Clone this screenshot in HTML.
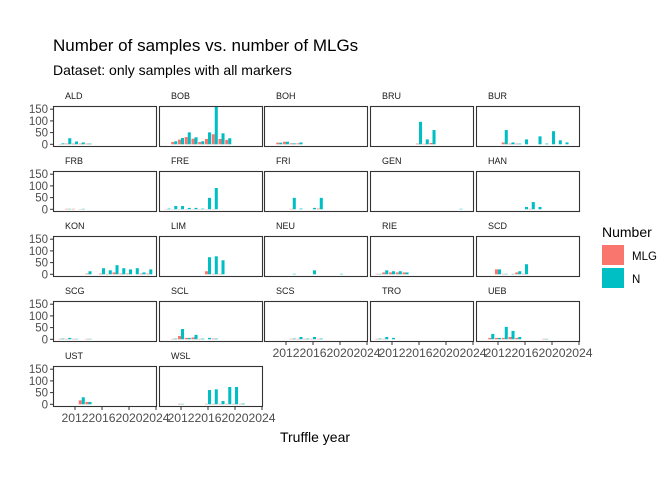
<!DOCTYPE html>
<html><head><meta charset="utf-8"><style>
html,body{margin:0;padding:0;background:#fff;}
svg{display:block;font-family:"Liberation Sans",Arial,sans-serif;}
</style></head><body>
<svg id="chart" width="672" height="480" viewBox="0 0 672 480" xmlns="http://www.w3.org/2000/svg">
<rect width="672" height="480" fill="#fff"/>
<text x="53" y="51" font-size="17" fill="#000">Number of samples vs. number of MLGs</text>
<text x="53" y="75" font-size="14" fill="#000">Dataset: only samples with all markers</text>
<text x="315" y="442" font-size="14" fill="#000" text-anchor="middle">Truffle year</text>
<g>
<text x="602" y="237" font-size="14" fill="#000">Number</text>
<rect x="602" y="245" width="22" height="20" fill="#F8766D"/>
<text x="632" y="260" font-size="11.5" fill="#000">MLG</text>
<rect x="602" y="268" width="22" height="20" fill="#00BFC4"/>
<text x="632" y="283" font-size="11.5" fill="#000">N</text>
</g>
<g id="panels"></g>
</svg>
<script>
const panelNames=["ALD","BOB","BOH","BRU","BUR","FRB","FRE","FRI","GEN","HAN","KON","LIM","NEU","RIE","SCD","SCG","SCL","SCS","TRO","UEB","UST","WSL"];
const panelYears=[
[2010,2011,2012,2013,2014],
[2011,2012,2013,2014,2015,2016,2017,2018,2019],
[2011,2012,2013,2014],
[2016,2017,2018],
[2013,2014,2015,2016,2018,2019,2020,2021,2022],
[2011,2012,2013],
[2010,2011,2012,2013,2014,2015,2016,2017],
[2013,2014,2016,2017],
[2022],
[2016,2017,2018],
[2014,2016,2017,2018,2019,2020,2021,2022,2023],
[2016,2017,2018],
[2013,2016,2020],
[2010,2011,2012,2013,2014],
[2012,2013,2014,2015,2016],
[2010,2011,2012,2014],
[2011,2012,2013,2014,2015,2016,2017],
[2013,2014,2015,2016,2017],
[2010,2011,2012],
[2011,2012,2013,2014,2015,2019],
[2013,2014],
[2012,2016,2017,2018,2019,2020,2021]
];
const mlgCounts=[
[1,3,3,3,3],
[10,20,31,24,10,23,43,23,19],
[7,11,4,4],
[3,2,6],
[8,3,3,0,0,0,0,0,0],
[2,2,1],
[1,1,1,1,1,1,1,1],
[2,0,0,3],
[0],
[0,2,0],
[3,3,2,8,3,3,0,3,3],
[13,2,2],
[0,0,0],
[2,8,8,8,8],
[21,2,0,8,2],
[2,2,2,2],
[2,14,6,8,2,0,3],
[2,2,2,2,2],
[2,2,0],
[6,6,6,10,6,2],
[17,10],
[2,2,2,2,2,2,2]
];
const nCounts=[
[4,26,12,8,3],
[13,27,51,30,13,51,163,47,26],
[7,11,4,8],
[96,21,61],
[61,8,3,21,34,3,56,17,8],
[2,0,2],
[3,14,14,6,6,3,49,91],
[49,3,6,49],
[2],
[10,31,10],
[13,26,17,39,26,21,26,8,21],
[73,77,60],
[2,17,2],
[2,17,13,13,8],
[21,2,2,13,43],
[3,6,2,2],
[3,44,6,19,3,6,3],
[3,10,3,10,3],
[3,10,6],
[23,6,53,36,10,2],
[30,10],
[2,61,64,14,74,74,3]
];
const yTicks=[0,50,100,150];
const xTicks=[2012,2016,2020,2024];

const colLeft=[53,159,264,370,476], rowTop=[106,171,236,301,366];
const PW=104, PH=40, X0=2008.74, PXY=6.75;
const NS="http://www.w3.org/2000/svg";
const g=document.getElementById('panels');
function mk(t,a){const e=document.createElementNS(NS,t);for(const k in a)e.setAttribute(k,a[k]);return e;}
function xs(col,yr){return colLeft[col]+(yr-X0)*PXY;}
function ys(row,v){return rowTop[row]+38.3-v*0.234;}
const nPanels=panelNames.length;
panelNames.forEach((name,i)=>{
  const row=Math.floor(i/5), col=i%5;
  const L=colLeft[col], T=rowTop[row];
  const lab=mk('text',{x:L+12,y:T-7,'font-size':9,fill:'#1a1a1a'});
  lab.textContent=name;
  
  
  g.appendChild(lab);
  panelYears[i].forEach((yr,j)=>{
    const m=mlgCounts[i][j], n=nCounts[i][j];
    const r1=mk('rect',{x:xs(col,yr-0.45),y:ys(row,m),width:0.45*PXY,height:Math.max(0,ys(row,0)-ys(row,m)),fill:'#F8766D'});
    
    
    g.appendChild(r1);
    const r2=mk('rect',{x:xs(col,yr),y:ys(row,n),width:0.45*PXY,height:Math.max(0,ys(row,0)-ys(row,n)),fill:'#00BFC4'});
    
    
    g.appendChild(r2);
  });
  const b=mk('rect',{x:L+0.5,y:T+0.5,width:PW-1,height:PH,fill:'none',stroke:'#333','stroke-width':1.1});
  
  
  g.appendChild(b);
  if(col===0){
    yTicks.forEach(v=>{
      const y=ys(row,v);
      const tk=mk('line',{x1:L-3,x2:L,y1:y,y2:y,stroke:'#333','stroke-width':1});
      
      
      g.appendChild(tk);
      const tl=mk('text',{x:L-5,y:y+4,'font-size':11.5,fill:'#4d4d4d','text-anchor':'end'});
      tl.textContent=v;
      
      
      g.appendChild(tl);
    });
  }
  if(i+5>=nPanels){
    xTicks.forEach(v=>{
      const x=xs(col,v), yb=T+PH+1;
      const tk=mk('line',{x1:x,x2:x,y1:yb,y2:yb+3,stroke:'#333','stroke-width':1});
      
      
      g.appendChild(tk);
      const tl=mk('text',{x:x,y:yb+15,'font-size':12.2,fill:'#4d4d4d','text-anchor':'middle'});
      tl.textContent=v;
      
      
      g.appendChild(tl);
    });
  }
});
</script>
</body></html>
